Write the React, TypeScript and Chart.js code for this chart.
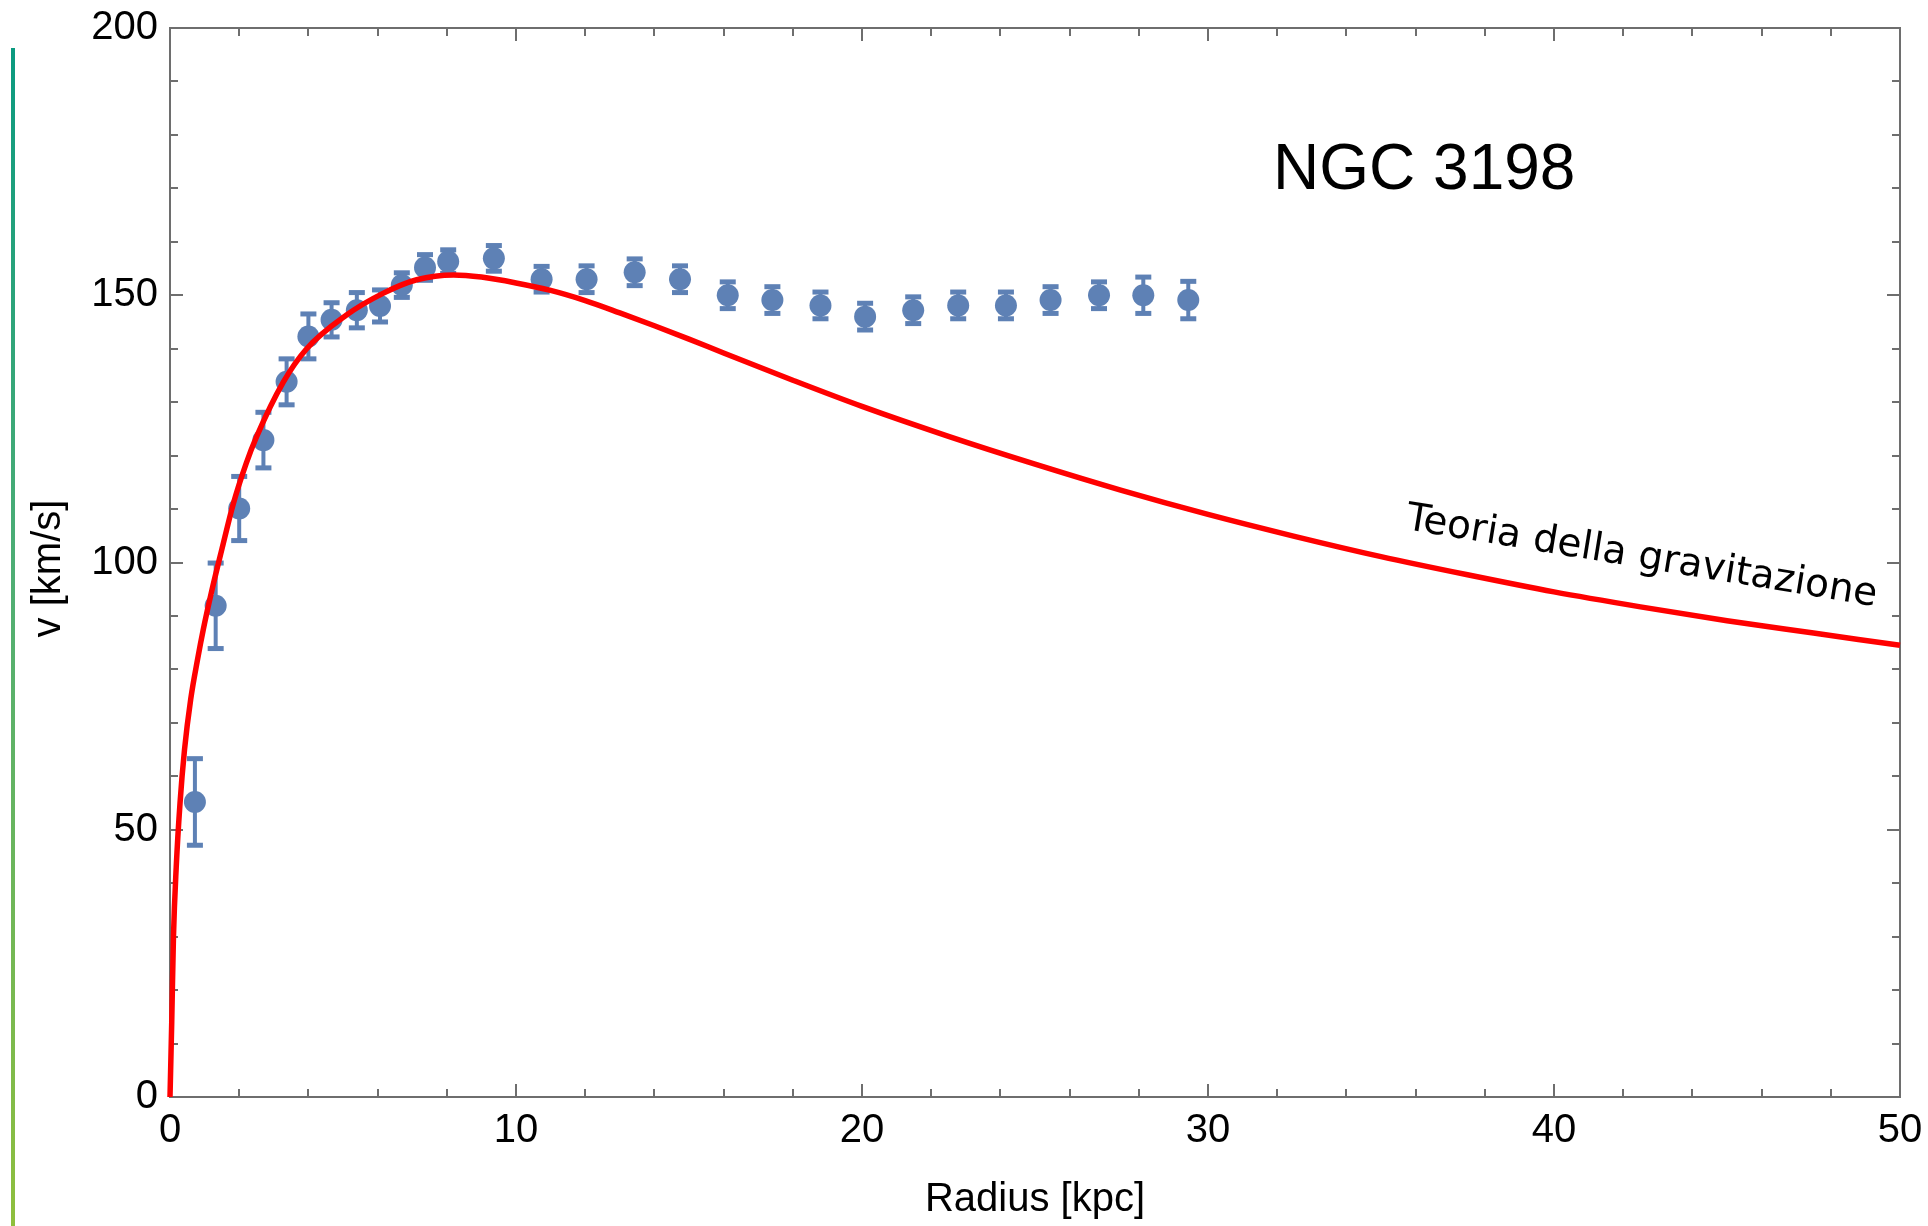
import { useEffect, useRef } from 'react';
import { Chart, registerables } from 'chart.js';

Chart.register(...registerables);

// Observed rotation curve of NGC 3198
const radius = [0.72, 1.32, 2.0, 2.7, 3.37, 4.0, 4.67, 5.4, 6.07, 6.7, 7.37, 8.04, 9.36, 10.74, 12.04, 13.43, 14.74, 16.12, 17.41, 18.8, 20.09, 21.48, 22.78, 24.16, 25.45, 26.85, 28.13, 29.43];
const velocity = [55.2, 91.9, 110.1, 122.9, 133.8, 142.3, 145.4, 147.2, 148.0, 151.9, 155.2, 156.3, 156.9, 153.0, 153.0, 154.3, 153.0, 150.0, 149.1, 148.1, 146.0, 147.2, 148.1, 148.1, 149.1, 150.0, 150.0, 149.1];
const velocityError = [8.1, 8.0, 6.0, 5.2, 4.3, 4.2, 3.2, 3.3, 3.0, 2.3, 2.4, 2.2, 2.4, 2.4, 2.5, 2.5, 2.5, 2.5, 2.5, 2.5, 2.5, 2.5, 2.5, 2.5, 2.5, 2.5, 3.4, 3.5];

// Theoretical (Newtonian) curve
const theoryRadius = [0, 0.05, 0.1, 0.18, 0.29, 0.42, 0.6, 0.8, 0.96, 1.2, 1.5, 1.83, 2.2, 2.5, 3.27, 3.95, 5.1, 6.17, 7.13, 8.2, 9.0, 10.0, 11.0, 12.0, 13.0, 14.0, 15.0, 16.0, 18.0, 20.0, 22.5, 25.0, 27.5, 30.0, 32.5, 35.0, 37.5, 40.0, 42.5, 45.0, 47.5, 50.0];
const theoryVelocity = [0, 14, 30, 43, 55, 65, 74.5, 82, 87.4, 94.5, 102.5, 111, 118.5, 123.5, 133.7, 140.0, 146.3, 150.4, 152.9, 153.8, 153.4, 152.3, 150.9, 149.0, 146.7, 144.3, 141.8, 139.2, 134.1, 129.2, 123.6, 118.4, 113.5, 109.0, 104.9, 101.1, 97.7, 94.5, 91.7, 89.1, 86.8, 84.5];

const xMin = 0;
const xMax = 50;
const xMajorStep = 10;
const xMinorStep = 2;
const yMin = 0;
const yMax = 200;
const yMajorStep = 50;
const yMinorStep = 10;

const xTitle = 'Radius [kpc]';
const yTitle = 'v [km/s]';
const galaxyName = 'NGC 3198';
const galaxyNameAt = { x: 31.88, y: 169.9 };
const curveLabel = 'Teoria della gravitazione';
const curveLabelAt = { x: 35.69, y: 106.27 };
const curveLabelAngleDeg = 9.3;

const POINT_COLOR = '#5e81b5';
const CURVE_COLOR = '#ff0000';
const FRAME_COLOR = '#6e6e6e';
const SANS = '"Liberation Sans", Arial, Helvetica, sans-serif';

const framePlugin = {
  id: 'frameAndErrors',
  beforeDatasetsDraw(chart: any) {
    const { ctx, chartArea } = chart;
    const xs = chart.scales.x;
    const ys = chart.scales.y;
    const { left, right, top, bottom } = chartArea;
    ctx.save();
    ctx.strokeStyle = FRAME_COLOR;
    ctx.lineWidth = 2;
    ctx.strokeRect(left, top, right - left, bottom - top);
    const majorLen = 13;
    const minorLen = 8;
    ctx.lineWidth = 2;
    ctx.beginPath();
    for (let v = xMin; v <= xMax + 1e-9; v += xMinorStep) {
      const isMajor = Math.abs(v / xMajorStep - Math.round(v / xMajorStep)) < 1e-6;
      const len = isMajor ? majorLen : minorLen;
      const px = Math.round(xs.getPixelForValue(v));
      ctx.moveTo(px, bottom);
      ctx.lineTo(px, bottom - len);
      ctx.moveTo(px, top);
      ctx.lineTo(px, top + len);
    }
    for (let v = yMin; v <= yMax + 1e-9; v += yMinorStep) {
      const isMajor = Math.abs(v / yMajorStep - Math.round(v / yMajorStep)) < 1e-6;
      const len = isMajor ? majorLen : minorLen;
      const py = Math.round(ys.getPixelForValue(v));
      ctx.moveTo(left, py);
      ctx.lineTo(left + len, py);
      ctx.moveTo(right, py);
      ctx.lineTo(right - len, py);
    }
    ctx.stroke();

    // error bars
    ctx.strokeStyle = POINT_COLOR;
    ctx.fillStyle = POINT_COLOR;
    ctx.lineWidth = 4;
    for (let i = 0; i < radius.length; i++) {
      const px = xs.getPixelForValue(radius[i]);
      const pTop = ys.getPixelForValue(velocity[i] + velocityError[i]);
      const pBot = ys.getPixelForValue(velocity[i] - velocityError[i]);
      ctx.beginPath();
      ctx.moveTo(px, pTop);
      ctx.lineTo(px, pBot);
      ctx.stroke();
      ctx.fillRect(px - 8, pTop - 2.5, 16, 5);
      ctx.fillRect(px - 8, pBot - 2.5, 16, 5);
    }
    ctx.restore();
  },
  afterDatasetsDraw(chart: any) {
    const { ctx, chartArea } = chart;
    const xs = chart.scales.x;
    const ys = chart.scales.y;
    ctx.save();
    ctx.fillStyle = '#000';
    ctx.textAlign = 'left';
    ctx.textBaseline = 'alphabetic';
    ctx.font = `64px ${SANS}`;
    ctx.fillText(galaxyName, xs.getPixelForValue(galaxyNameAt.x), ys.getPixelForValue(galaxyNameAt.y));

    ctx.save();
    ctx.translate(xs.getPixelForValue(curveLabelAt.x), ys.getPixelForValue(curveLabelAt.y));
    ctx.rotate((curveLabelAngleDeg * Math.PI) / 180);
    ctx.font = '39px "DejaVu Sans", "Open Sans", sans-serif';
    ctx.fillText(curveLabel, 0, 0);
    ctx.restore();

    // y axis title (vertical)
    ctx.translate(49, (chartArea.top + chartArea.bottom) / 2 + 6);
    ctx.rotate(-Math.PI / 2);
    ctx.font = `40px ${SANS}`;
    ctx.textAlign = 'center';
    ctx.textBaseline = 'middle';
    ctx.fillText(yTitle, 0, 0);
    ctx.restore();
  },
};

export default function App() {
  const canvasRef = useRef<HTMLCanvasElement | null>(null);

  useEffect(() => {
    const canvas = canvasRef.current;
    if (!canvas) return;
    const chart = new Chart(canvas, {
      type: 'scatter',
      data: {
        datasets: [
          {
            label: 'Teoria',
            data: theoryRadius.map((r, i) => ({ x: r, y: theoryVelocity[i] })),
            showLine: true,
            borderColor: CURVE_COLOR,
            borderWidth: 5.5,
            pointRadius: 0,
            cubicInterpolationMode: 'monotone',
            clip: false,
            order: 0,
          } as any,
          {
            label: 'NGC 3198',
            data: radius.map((r, i) => ({ x: r, y: velocity[i] })),
            pointRadius: 11,
            pointBackgroundColor: POINT_COLOR,
            backgroundColor: POINT_COLOR,
            borderWidth: 0,
            pointBorderWidth: 0,
            order: 1,
          } as any,
        ],
      },
      options: {
        animation: false,
        responsive: false,
        devicePixelRatio: 1,
        layout: { padding: { left: 0, top: 28, right: 28, bottom: 0 } },
        plugins: {
          legend: { display: false },
          tooltip: { enabled: false },
        },
        scales: {
          x: {
            type: 'linear',
            min: xMin,
            max: xMax,
            grid: { display: false, drawTicks: false },
            border: { display: false },
            ticks: {
              stepSize: xMajorStep,
              font: { family: SANS, size: 40 },
              color: '#000',
              padding: 10,
              maxRotation: 0,
              autoSkip: false,
            },
            title: {
              display: true,
              text: xTitle,
              font: { family: SANS, size: 40 },
              color: '#000',
              padding: { top: 0, bottom: 2 },
            },
            afterFit: (s: any) => {
              s.height = 129;
              s.paddingLeft = 0;
              s.paddingRight = 0;
            },
          },
          y: {
            type: 'linear',
            min: yMin,
            max: yMax,
            grid: { display: false, drawTicks: false },
            border: { display: false },
            ticks: {
              stepSize: yMajorStep,
              font: { family: SANS, size: 40 },
              color: '#000',
              padding: 12,
            },
            title: { display: false, text: yTitle },
            afterFit: (s: any) => {
              s.width = 170;
              s.paddingTop = 0;
              s.paddingBottom = 0;
            },
          },
        },
      } as any,
      plugins: [framePlugin],
    });
    return () => chart.destroy();
  }, []);

  return (
    <div
      style={{
        position: 'absolute',
        left: 0,
        top: 0,
        width: 1928,
        height: 1226,
        background: '#ffffff',
        overflow: 'hidden',
      }}
    >
      <div
        style={{
          position: 'absolute',
          left: 11,
          top: 48,
          width: 4,
          height: 1178,
          background: 'linear-gradient(to bottom, #0b9a80, #4fae74 45%, #8fbf3d)',
        }}
      />
      <canvas
        ref={canvasRef}
        width={1928}
        height={1226}
        style={{ position: 'absolute', left: 0, top: 0, display: 'block' }}
      />
    </div>
  );
}
